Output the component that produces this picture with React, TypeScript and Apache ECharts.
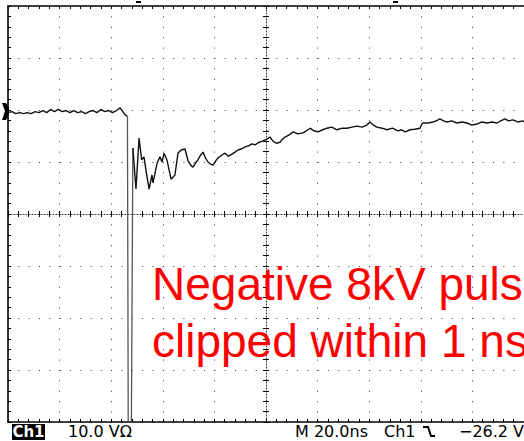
import React, { useEffect, useRef } from "react";
import * as echarts from "echarts";

// Time axis: 10 divisions x 20 ns; voltage axis: 8 divisions x 10 V (ground at 0 V)
const timeRange = [0, 200];
const timeStep = 20;
const voltRange = [-60, 20];
const voltStep = 10;

// [time ns, volts]
const baselineTrace: number[][] = [
  [0, -0.5], [1.5, -0.3], [3, -0.7], [4.5, -0.5], [6, -0.7], [7.5, -0.5], [9, -0.7], [10.5, -0.3],
  [12, -0.5], [13.5, -0.1], [15, -0.5], [16.5, 0.1], [18, -0.3], [19.5, 0.1], [21, -0.3], [22.5, -0.1],
  [24, -0.5], [25.5, -0.1], [27, -0.5], [28.5, -0.3], [30, -0.7], [31.5, -0.3], [33, -0.1], [34.5, -0.5],
  [36, 0.1], [37.5, -0.3], [39, -0.1], [40.5, -0.5], [42, -0.1], [43.5, 0.4], [44.5, -0.3], [45.5, -1.0],
  [46.3, -1.2],
];

const spikeTrace: number[][] = [
  [46.3, -1.2], [46.7, -80], [47.6, -80], [48.4, -7.3],
];

const ringTrace: number[][] = [
  [48.4, -7.3], [49.6, -15.2], [50.8, -5.4], [51.8, -9.6], [52.7, -9.0], [53.6, -12.0], [54.7, -15.2],
  [55.8, -12.5], [56.2, -14.0], [57.8, -10.2], [58.9, -9.0], [59.7, -10.0], [60.5, -8.3], [61.6, -9.6],
  [63.2, -13.3], [64.7, -12.5], [65.9, -8.3], [67.1, -7.7], [68.6, -7.5], [69.8, -9.8], [70.8, -10.6],
  [71.7, -11.0], [72.7, -10.2], [73.6, -9.6], [74.6, -8.7], [75.6, -8.1], [76.5, -9.2], [77.5, -10.0],
  [78.5, -10.4], [79.5, -10.6], [80.5, -9.8], [81.4, -9.2], [82.8, -8.7], [84.1, -8.3], [85.4, -8.9],
  [86.8, -8.5], [88, -8.1], [89.1, -7.7], [90.5, -7.5], [91.9, -7.1], [93.2, -6.9], [94.6, -6.5],
  [95.8, -6.7], [96.9, -6.3], [98.6, -6.0], [100.4, -5.6], [101.5, -5.2], [102.7, -6.0], [104, -6.4],
  [105.4, -6.2], [106.4, -5.6], [107.4, -5.2], [109, -4.8], [110.5, -4.2], [112.4, -4.6], [114.3, -4.4],
  [115.7, -4.0], [117.1, -3.5], [118.6, -4.0], [120.2, -4.2], [122, -3.8], [123.6, -3.5], [125.5, -3.3],
  [127.5, -3.8], [129.5, -3.5], [131.4, -3.5], [133.3, -3.3], [135.3, -3.1], [137.2, -3.3], [139.1, -2.9],
  [140.3, -2.3], [141.6, -2.9], [143, -3.3], [145, -3.5], [146.9, -3.8], [149, -3.5], [151.2, -4.0],
  [152.5, -3.8], [154, -4.2], [155.8, -3.8], [157.7, -3.7], [159.7, -3.5], [160.4, -2.7], [160.9, -2.5],
  [162.8, -2.5], [164.7, -2.3], [166, -2.1], [167.4, -1.7], [168.8, -2.1], [170.2, -2.3], [172, -2.1],
  [174, -2.5], [176, -2.3], [177.9, -2.5], [179.8, -2.9], [181.8, -2.7], [183.7, -2.3], [185.7, -2.5],
  [187.6, -2.3], [189.5, -2.5], [191, -2.1], [192.6, -1.7], [194, -2.1], [195.7, -1.9], [197.6, -2.3],
  [199.6, -2.1], [200, -2.3],
];

const annotationLines = ["Negative 8kV pulse", "clipped within 1 ns"];
const channelLabel = "Ch1";
const scaleLabel = "10.0 V\u03A9";
const timebaseLabel = "M 20.0ns";
const triggerSourceLabel = "Ch1";
const triggerLevelLabel = "\u221226.2 V";

export default function App() {
  const ref = useRef<HTMLDivElement>(null);

  useEffect(() => {
    if (!ref.current) return;
    const chart = echarts.init(ref.current, null, { renderer: "svg" });

    const noLabel = { show: false };
    const xBase = {
      type: "value",
      min: timeRange[0],
      max: timeRange[1],
      interval: timeStep,
      axisLabel: noLabel,
      splitLine: { show: false },
    };
    const yBase = {
      type: "value",
      min: voltRange[0],
      max: voltRange[1],
      interval: voltStep,
      axisLabel: noLabel,
      splitLine: { show: false },
    };
    const tickStyle = { color: "#000", width: 1 };
    const ticks = (inside: boolean, len: number) => ({
      axisTick: { show: true, inside, length: len, lineStyle: tickStyle },
      minorTick: { show: true, splitNumber: 5, length: len, lineStyle: tickStyle },
    });
    const line = (show: boolean, color: string, width: number, type: any) => ({
      show,
      onZero: false,
      lineStyle: { color, width, type },
    });

    const option: any = {
      animation: false,
      backgroundColor: "#ffffff",
      grid: { left: 8, top: 6, width: 516, height: 416, containLabel: false },
      xAxis: [
        {
          ...xBase,
          position: "bottom",
          axisLine: line(true, "#000", 1.6, "solid"),
          ...ticks(true, 3),
          splitLine: { show: true, lineStyle: { color: "#333", width: 1, type: [1, 9.4] } },
        },
        {
          ...xBase,
          position: "top",
          axisLine: line(true, "#000", 1.5, "solid"),
          ...ticks(true, 3),
        },
        {
          ...xBase,
          position: "bottom",
          offset: -208,
          axisLine: line(true, "#333", 1, [1, 2]),
          ...ticks(true, 3),
        },
        {
          ...xBase,
          position: "bottom",
          offset: -208,
          axisLine: line(false, "#333", 1, "solid"),
          ...ticks(false, 3),
        },
      ],
      yAxis: [
        {
          ...yBase,
          position: "left",
          axisLine: line(true, "#000", 1.6, "solid"),
          ...ticks(true, 3),
          splitLine: { show: true, lineStyle: { color: "#333", width: 1, type: [1, 9.32] } },
        },
        {
          ...yBase,
          position: "left",
          offset: -258,
          axisLine: line(true, "#333", 1, [1, 2]),
          ...ticks(true, 3),
        },
        {
          ...yBase,
          position: "left",
          offset: -258,
          axisLine: line(false, "#333", 1, "solid"),
          ...ticks(false, 3),
        },
      ],
      series: [
        {
          type: "line",
          xAxisIndex: 0,
          yAxisIndex: 0,
          data: baselineTrace,
          showSymbol: false,
          clip: true,
          lineStyle: { color: "#111", width: 1.4 },
          z: 5,
        },
        {
          type: "line",
          xAxisIndex: 0,
          yAxisIndex: 0,
          data: spikeTrace,
          showSymbol: false,
          clip: true,
          lineStyle: { color: "#555", width: 1.3 },
          z: 5,
        },
        {
          type: "line",
          xAxisIndex: 0,
          yAxisIndex: 0,
          data: ringTrace,
          showSymbol: false,
          clip: true,
          lineStyle: { color: "#111", width: 1.4 },
          z: 5,
        },
      ],
      graphic: [
        {
          type: "polygon",
          shape: { points: [[2, 103], [6, 103], [9, 108], [9, 114], [6, 120], [2, 120], [5, 111]] },
          style: { fill: "#000" },
        },
        { type: "rect", shape: { x: 136, y: 1, width: 5, height: 2 }, style: { fill: "#000" } },
        { type: "rect", shape: { x: 393, y: 1, width: 5, height: 2 }, style: { fill: "#000" } },
        {
          type: "text",
          x: 152,
          y: 284,
          z: 10,
          style: {
            text: annotationLines[0],
            font: '46px "Liberation Sans", Arial, sans-serif',
            fill: "#ff0000",
            align: "left",
            verticalAlign: "middle",
          },
        },
        {
          type: "text",
          x: 152,
          y: 341,
          z: 10,
          style: {
            text: annotationLines[1],
            font: '46px "Liberation Sans", Arial, sans-serif',
            fill: "#ff0000",
            align: "left",
            verticalAlign: "middle",
          },
        },
        { type: "rect", shape: { x: 12, y: 424, width: 33, height: 16 }, style: { fill: "#000" } },
        {
          type: "text",
          x: 28.5,
          y: 432,
          style: {
            text: channelLabel,
            font: 'bold 15px "DejaVu Sans", sans-serif',
            fill: "#fff",
            align: "center",
            verticalAlign: "middle",
          },
        },
        {
          type: "text",
          x: 68,
          y: 431,
          style: { text: scaleLabel, font: '16px "DejaVu Sans", sans-serif', fill: "#000", align: "left", verticalAlign: "middle" },
        },
        {
          type: "text",
          x: 295,
          y: 431,
          style: { text: timebaseLabel, font: '16px "DejaVu Sans", sans-serif', fill: "#000", align: "left", verticalAlign: "middle" },
        },
        {
          type: "text",
          x: 384,
          y: 431,
          style: { text: triggerSourceLabel, font: '16px "DejaVu Sans", sans-serif', fill: "#000", align: "left", verticalAlign: "middle" },
        },
        {
          type: "polyline",
          shape: { points: [[423, 427], [428, 427], [431, 436], [435, 436]] },
          style: { stroke: "#000", lineWidth: 2, fill: null },
        },
        {
          type: "text",
          x: 459,
          y: 431,
          style: { text: triggerLevelLabel, font: '16px "DejaVu Sans", sans-serif', fill: "#000", align: "left", verticalAlign: "middle" },
        },
      ],
    };

    chart.setOption(option);
    return () => chart.dispose();
  }, []);

  return (
    <div
      ref={ref}
      style={{ position: "fixed", left: 0, top: 0, width: 524, height: 441, background: "#fff" }}
    />
  );
}
